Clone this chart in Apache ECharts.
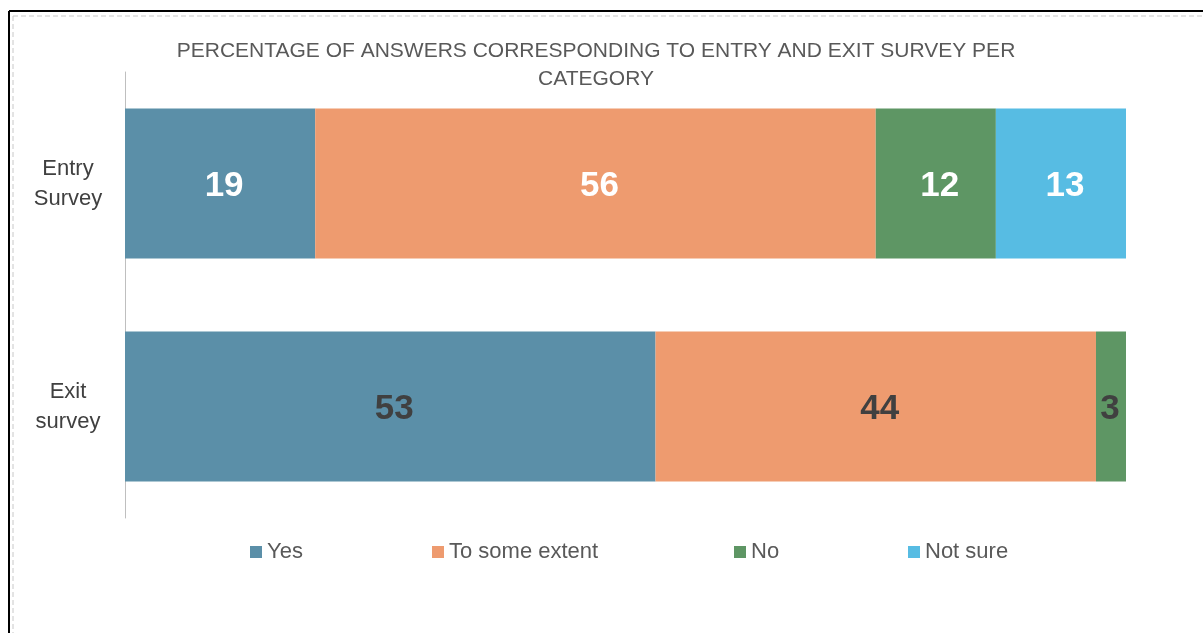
<!DOCTYPE html>
<html>
<head>
<meta charset="utf-8">
<script src="https://cdn.jsdelivr.net/npm/echarts@6/dist/echarts.min.js"></script>
<style>
  html, body { margin: 0; padding: 0; background: #fff; }
  #main { width: 1203px; height: 633px; }
</style>
</head>
<body>
<div id="main"></div>
<script>
var categories = ['Entry\nSurvey', 'Exit\nsurvey'];
var seriesNames = ['Yes', 'To some extent', 'No', 'Not sure'];
var yes = [19, 53];
var someExtent = [56, 44];
var no = [12, 3];
var notSure = [13, 0];

var colors = ['#5b8fa8', '#ee9b6f', '#5e9664', '#57bce3'];
var labelColors = ['#ffffff', '#404040'];

var chart = echarts.init(document.getElementById('main'));

function makeSeries(name, values, color) {
  return {
    name: name,
    type: 'bar',
    stack: 'total',
    barWidth: 150,
    itemStyle: { color: color },
    label: {
      show: true,
      position: 'inside',
      fontSize: 35,
      fontWeight: 'bold',
      fontFamily: 'Liberation Sans',
      formatter: function (p) { return p.value ? p.value : ''; }
    },
    data: values.map(function (v, i) {
      // thin segments keep their label centred
      return { value: v, label: { color: labelColors[i], offset: v < 5 ? [-1, 3] : [4, 3] } };
    })
  };
}

// left edge of each legend icon
var legendLeft = [245, 427, 729, 903];

var option = {
  backgroundColor: '#fff',
  title: {
    text: 'PERCENTAGE OF ANSWERS CORRESPONDING TO ENTRY AND EXIT SURVEY PER\nCATEGORY',
    left: 591,
    textAlign: 'center',
    top: 32,
    textStyle: {
      color: '#595959',
      fontSize: 21,
      fontWeight: 'normal',
      fontFamily: 'Liberation Sans',
      lineHeight: 28
    }
  },
  legend: seriesNames.map(function (n, i) {
    return {
      data: [n],
      left: legendLeft[i],
      top: 536,
      icon: 'rect',
      itemWidth: 12,
      itemHeight: 12,
      itemGap: 6,
      textStyle: { color: '#595959', fontSize: 22, fontFamily: 'Liberation Sans' }
    };
  }),
  grid: { left: 125, right: 77, top: 72, bottom: 115 },
  xAxis: {
    type: 'value',
    min: 0,
    max: 100,
    show: false
  },
  yAxis: {
    type: 'category',
    data: categories,
    inverse: true,
    axisLine: { show: true, lineStyle: { color: '#bfbfbf', width: 1 } },
    axisTick: { show: false },
    axisLabel: {
      color: '#404040',
      fontSize: 22,
      fontFamily: 'Liberation Sans',
      lineHeight: 30,
      margin: 57,
      align: 'center'
    }
  },
  graphic: [
    { type: 'line', shape: { x1: 9, y1: 11, x2: 1203, y2: 11 }, style: { stroke: '#000', lineWidth: 2 } },
    { type: 'line', shape: { x1: 9, y1: 11, x2: 9, y2: 633 }, style: { stroke: '#000', lineWidth: 2 } },
    { type: 'line', shape: { x1: 13, y1: 16, x2: 1203, y2: 16 }, style: { stroke: '#c8c8c8', lineWidth: 1, lineDash: [5, 3] } },
    { type: 'line', shape: { x1: 13, y1: 16, x2: 13, y2: 633 }, style: { stroke: '#c8c8c8', lineWidth: 1, lineDash: [5, 3] } }
  ],
  series: [
    makeSeries(seriesNames[0], yes, colors[0]),
    makeSeries(seriesNames[1], someExtent, colors[1]),
    makeSeries(seriesNames[2], no, colors[2]),
    makeSeries(seriesNames[3], notSure, colors[3])
  ]
};

chart.setOption(option);
</script>
</body>
</html>
